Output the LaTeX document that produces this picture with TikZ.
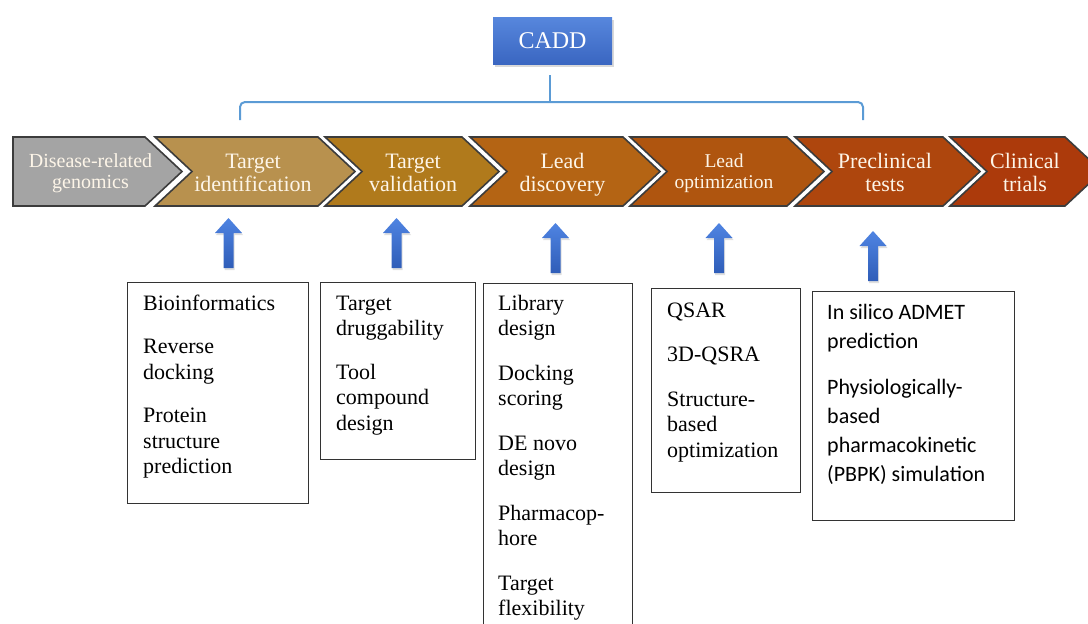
\documentclass[tikz,border=0pt]{standalone}
\usepackage{fontspec}
\setmainfont{Liberation Serif}
\newfontfamily\calib{Carlito}
\usetikzlibrary{shadows}

\definecolor{chevLine}{HTML}{3C3C3C}
\definecolor{chevText}{HTML}{FDF5E8}
\definecolor{cGray}{HTML}{A4A4A4}
\definecolor{cTid}{HTML}{B8914E}
\definecolor{cTval}{HTML}{B07A1C}
\definecolor{cLdis}{HTML}{B46414}
\definecolor{cLopt}{HTML}{AF550F}
\definecolor{cPre}{HTML}{AE460D}
\definecolor{cCli}{HTML}{AC3A0B}
\definecolor{caddTop}{HTML}{5787DD}
\definecolor{caddBot}{HTML}{3A66C1}
\definecolor{braceBlue}{HTML}{5B9BD5}
\definecolor{arrTop}{HTML}{4F84E2}
\definecolor{arrBot}{HTML}{2F5DB8}
\definecolor{boxLine}{HTML}{333333}

% one stage of the pipeline: left x, right x, fill colour
\newcommand\stagechevron[3]{%
  \draw[chev, fill=#3] (#1,137) -- (#2,137) -- ({#2+37},171.5) -- (#2,206)
    -- (#1,206) -- ({#1+37},171.5) -- cycle;}

% upward block arrow: centre x, tip y
\newcommand\uparrowblock[2]{%
  \path[blockarrow] ({#1-5},{#2+50}) -- ({#1-5},{#2+15}) -- ({#1-13.5},{#2+15})
    -- (#1,#2) -- ({#1+13.5},{#2+15}) -- ({#1+5},{#2+15}) -- ({#1+5},{#2+50}) -- cycle;}

\begin{document}
\begin{tikzpicture}[x=1pt,y=-1pt,
  chev/.style={draw=chevLine, line width=1.6pt, line join=miter},
  stagelabel/.style={anchor=north, inner sep=0pt, align=center, text=chevText,
    font=\fontsize{22}{22.5}\selectfont},
  stagelabelsmall/.style={stagelabel, font=\fontsize{20}{21}\selectfont},
  caddbox/.style={top color=caddTop, bottom color=caddBot, text=white,
    minimum width=119pt, minimum height=47pt, inner sep=0pt,
    font=\fontsize{24}{26}\selectfont,
    drop shadow={opacity=0.3, shadow xshift=2pt, shadow yshift=-3pt}},
  bracket/.style={draw=braceBlue, line width=2pt},
  blockarrow/.style={top color=arrTop, bottom color=arrBot,
    drop shadow={opacity=0.25, shadow xshift=1pt, shadow yshift=-2pt}},
  toolbox/.style={draw=boxLine, line width=1.3pt, anchor=north west, inner sep=0pt},
  tooltext/.style={anchor=north west, inner sep=0pt, align=left,
    font=\fontsize{22}{25.5}\selectfont},
  tooltextsans/.style={tooltext, font=\calib\fontsize{22}{29}\selectfont}
]
\useasboundingbox (0,0) rectangle (1088,624);

% ---- CADD header and bracket ----
\node[caddbox] (cadd) at (552.5,40.5) {CADD};
\coordinate (stemtop) at (550,75);
\coordinate (stembot) at (550,102);
\coordinate (brL) at (240,120);
\coordinate (brR) at (863,120);
\draw[bracket] (stemtop) -- (stembot);
\draw[bracket, rounded corners=5pt] (brL) -- (240,102) -- (863,102) -- (brR);

% ---- pipeline chevrons ----
\draw[chev, fill=cGray] (13,137) -- (145,137) -- (182,171.5) -- (145,206) -- (13,206) -- cycle;
\stagechevron{155}{318}{cTid}
\stagechevron{325}{462}{cTval}
\stagechevron{470}{623}{cLdis}
\stagechevron{630}{787}{cLopt}
\stagechevron{795}{943}{cPre}
\stagechevron{950}{1065}{cCli}

\node[stagelabelsmall] (sgen) at (90.5,152.3) {\strut Disease-related\\genomics};
\node[stagelabel] (stid) at (253,153) {\strut Target\\identification};
\node[stagelabel] (stval) at (413,153) {\strut Target\\validation};
\node[stagelabel] (sldis) at (562.5,153) {\strut Lead\\discovery};
\node[stagelabelsmall, font=\fontsize{19.5}{21}\selectfont] (slopt) at (724,152.3) {\strut Lead\\optimization};
\node[stagelabel] (spre) at (885,153) {\strut Preclinical\\tests};
\node[stagelabel] (scli) at (1025,153) {\strut Clinical\\trials};

% ---- upward arrows ----
\uparrowblock{228.5}{218}
\uparrowblock{396.5}{218}
\uparrowblock{555.5}{223}
\uparrowblock{719}{223}
\uparrowblock{873}{231}

% ---- method boxes ----
\node[toolbox, minimum width=181pt, minimum height=221pt] (b1) at (127,282) {};
\node[tooltext] (t1) at (143,292.15) {\strut Bioinformatics\\[18pt]Reverse\\docking\\[18pt]Protein\\structure\\prediction};

\node[toolbox, minimum width=155pt, minimum height=177pt] (b2) at (320,282) {};
\node[tooltext] (t2) at (336,292.15) {\strut Target\\druggability\\[18pt]Tool\\compound\\design};

\node[toolbox, minimum width=149pt, minimum height=360pt] (b3) at (483,283) {};
\node[tooltext] (t3) at (498,292.15) {\strut Library\\design\\[19pt]Docking\\scoring\\[19pt]DE novo\\design\\[19pt]Pharmacop-\\hore\\[19pt]Target\\flexibility};

\node[toolbox, minimum width=149pt, minimum height=204pt] (b4) at (651,288) {};
\node[tooltext] (t4) at (667,299.15) {\strut QSAR\\[19pt]3D-QSRA\\[19pt]Structure-\\based\\optimization};

\node[toolbox, minimum width=202pt, minimum height=229pt] (b5) at (812,291) {};
\node[tooltextsans] (t5) at (827,298.7) {\strut In silico ADMET\\prediction\\[17pt]Physiologically-\\based\\pharmacokinetic\\(PBPK) simulation};

\end{tikzpicture}
\end{document}
